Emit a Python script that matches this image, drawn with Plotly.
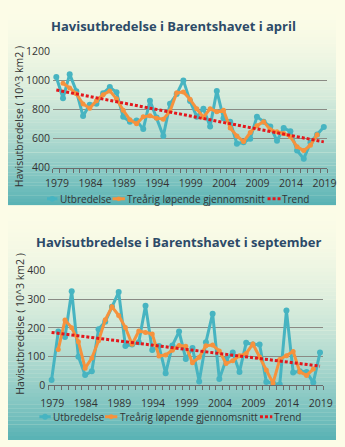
import plotly.graph_objects as go

# ---------------- data ----------------
years = list(range(1979, 2020))
avg_years = list(range(1980, 2019))
trend_years = [1979, 2019]
tick_years = [1979, 1984, 1989, 1994, 1999, 2004, 2009, 2014, 2019]

april_extent = [1023, 877, 1043, 925, 755, 833, 839, 912, 954, 918,
                750, 717, 724, 666, 861, 745, 618, 839, 906, 1000,
                858, 751, 806, 684, 928, 740, 717, 565, 575, 600,
                751, 717, 684, 585, 673, 651, 518, 462, 573, 629, 680]
april_avg = [981, 948, 908, 838, 809, 861, 902, 928, 874, 795,
             730, 702, 750, 757, 741, 734, 788, 915, 921, 870,
             805, 747, 806, 784, 795, 674, 619, 580, 642, 689,
             717, 662, 647, 636, 614, 544, 518, 555, 627]
april_trend = [934, 578]

sept_extent = [19, 187, 168, 327, 100, 36, 49, 195, 221, 273,
               324, 137, 142, 150, 277, 123, 137, 42, 139, 187,
               92, 130, 14, 150, 249, 22, 89, 114, 47, 148,
               142, 142, 12, 8, 3, 260, 45, 49, 47, 10, 114]
sept_avg = [125, 227, 200, 152, 60, 95, 155, 228, 273, 243,
            201, 143, 189, 184, 179, 102, 106, 122, 139, 136,
            79, 98, 138, 140, 120, 76, 86, 103, 111, 144,
            99, 54, 8, 90, 103, 118, 47, 35, 57]
sept_trend = [184, 67]

name_ext = "Utbredelse"
name_avg = "Treårig løpende gjennomsnitt"
name_trend = "Trend"
title_apr = "Havisutbredelse i Barentshavet i april"
title_sep = "Havisutbredelse i Barentshavet i september"
ytitle = "Havisutbredelse ( 10^3 km2 )"

# ---------------- style ----------------
W, H = 345, 447
TEAL = "#47b4c1"
ORANGE = "#f6923d"
RED = "#e3171c"
FONT = "Open Sans"
TXT = "#333333"

fig = go.Figure()


def add_panel(ext, avg, trend, xa, ya):
    fig.add_trace(go.Scatter(x=years, y=ext, name=name_ext, mode="lines+markers",
                             line=dict(color=TEAL, width=3), marker=dict(size=6, color=TEAL),
                             xaxis=xa, yaxis=ya, showlegend=False))
    fig.add_trace(go.Scatter(x=avg_years, y=avg, name=name_avg, mode="lines+markers",
                             line=dict(color=ORANGE, width=3), marker=dict(size=5, color=ORANGE),
                             xaxis=xa, yaxis=ya, showlegend=False))
    fig.add_trace(go.Scatter(x=trend_years, y=trend, name=name_trend, mode="lines",
                             line=dict(color=RED, width=3, dash="3px,2px"),
                             xaxis=xa, yaxis=ya, showlegend=False))


add_panel(april_extent, april_avg, april_trend, "x", "y")
add_panel(sept_extent, sept_avg, sept_trend, "x2", "y2")

# gradient background bands
def lerp(a, b, t):
    return a + (b - a) * t

PALE = (252, 252, 231)
DEEP = (88, 178, 180)
shapes = []
def gradient(y0, y1, n=60, p=1.8):
    for i in range(n):
        t = ((i + 0.5) / n) ** p
        c = tuple(int(round(lerp(PALE[k], DEEP[k], t))) for k in range(3))
        ya = 1 - (y0 + (y1 - y0) * i / n) / H
        yb = 1 - (y0 + (y1 - y0) * (i + 1) / n) / H
        shapes.append(dict(type="rect", xref="paper", yref="paper", x0=0, x1=1,
                           y0=yb, y1=ya + 0.0005, fillcolor="rgb(%d,%d,%d)" % c,
                           line=dict(width=0), layer="below"))

gradient(0, 205)
gradient(205, 447)

# ---------------- manual legends ----------------
annotations = []

def px(x):
    return x / W

def py(y):
    return 1 - y / H

def legend_row(y, teal_x, teal_t, orange_x, orange_t, red_x, red_t):
    shapes.append(dict(type="line", xref="paper", yref="paper", x0=px(teal_x[0]), x1=px(teal_x[1]),
                       y0=py(y), y1=py(y), line=dict(color=TEAL, width=3)))
    cx = (teal_x[0] + teal_x[1]) / 2
    shapes.append(dict(type="circle", xref="paper", yref="paper", x0=px(cx - 3), x1=px(cx + 3),
                       y0=py(y + 3), y1=py(y - 3), fillcolor=TEAL, line=dict(width=0)))
    shapes.append(dict(type="line", xref="paper", yref="paper", x0=px(orange_x[0]), x1=px(orange_x[1]),
                       y0=py(y), y1=py(y), line=dict(color=ORANGE, width=3)))
    cx = (orange_x[0] + orange_x[1]) / 2
    shapes.append(dict(type="circle", xref="paper", yref="paper", x0=px(cx - 2.5), x1=px(cx + 2.5),
                       y0=py(y + 2.5), y1=py(y - 2.5), fillcolor=ORANGE, line=dict(width=0)))
    shapes.append(dict(type="line", xref="paper", yref="paper", x0=px(red_x[0]), x1=px(red_x[1]),
                       y0=py(y), y1=py(y), line=dict(color=RED, width=3, dash="3px,2px")))
    for tx, txt in ((teal_t, name_ext), (orange_t, name_avg), (red_t, name_trend)):
        annotations.append(dict(text=txt, x=px(tx), y=py(y), xref="paper", yref="paper",
                                showarrow=False, xanchor="left", yanchor="middle",
                                font=dict(family=FONT, size=10, color=TXT)))

legend_row(198, (41, 52), 52.5, (110, 123), 123.5, (273, 287), 286.5)
legend_row(423, (33, 45), 45.5, (102, 115), 115.5, (265, 278), 277.5)

xr = [years[0] - 0.5, years[-1] + 0.5]
bounds = [y - 0.5 for y in years] + [years[-1] + 0.5]
btext = [str(int(b + 0.5)) if int(b + 0.5) in tick_years else "" for b in bounds]

def xaxis(x0, x1, anchor, standoff):
    half = int(round((x1 - x0) / (len(years)) / 2))
    return dict(domain=[x0 / W, x1 / W], range=xr, anchor=anchor, tickmode="array", tickvals=bounds,
                ticktext=btext, ticks="outside", ticklen=4, tickcolor="#6b6b6b", tickwidth=1,
                showgrid=False, zeroline=False, showline=True, linecolor="#6b6b6b", linewidth=1,
                tickfont=dict(family=FONT, size=10.5, color=TXT),
                ticklabelshift=half, ticklabelstandoff=standoff)

def yaxis(domain, rng, dt, anchor):
    return dict(domain=domain, range=rng, dtick=dt, tick0=0, anchor=anchor, showgrid=True,
                gridcolor="#8a8a84", gridwidth=1.3, zeroline=False, showline=False,
                ticks="", tickfont=dict(family=FONT, size=10.5, color=TXT),
                ticklabelstandoff=2)

annotations += [
    dict(text="<b>%s</b>" % title_apr, x=174.5 / W, y=1 - 20 / H, xref="paper", yref="paper",
         showarrow=False, xanchor="center", yanchor="middle",
         font=dict(family=FONT, size=13, color="#2c4a68")),
    dict(text="<b>%s</b>" % title_sep, x=179 / W, y=1 - 242.7 / H, xref="paper", yref="paper",
         showarrow=False, xanchor="center", yanchor="middle",
         font=dict(family=FONT, size=13, color="#2c4a68")),
    dict(text=ytitle, x=12.5 / W, y=1 - 113 / H, xref="paper", yref="paper", textangle=-90,
         showarrow=False, xanchor="center", yanchor="middle",
         font=dict(family=FONT, size=10.5, color=TXT)),
    dict(text=ytitle, x=12.5 / W, y=1 - 327 / H, xref="paper", yref="paper", textangle=-90,
         showarrow=False, xanchor="center", yanchor="middle",
         font=dict(family=FONT, size=10.5, color=TXT)),
]

fig.update_layout(
    width=W, height=H, margin=dict(l=0, r=0, t=0, b=0),
    paper_bgcolor="rgb(252,252,231)", plot_bgcolor="rgba(0,0,0,0)",
    showlegend=False,
    xaxis=xaxis(47.3, 335.7, "y", 2),
    yaxis=yaxis([1 - 166 / H, 1 - 45.7 / H], [400, 1200], 200, "x"),
    xaxis2=xaxis(42.3, 331.7, "y2", 4),
    yaxis2=yaxis([1 - 390.7 / H, 1 - 271.7 / H], [0, 400], 100, "x2"),
    shapes=shapes,
    annotations=annotations,
)

fig.write_html("out.html")
